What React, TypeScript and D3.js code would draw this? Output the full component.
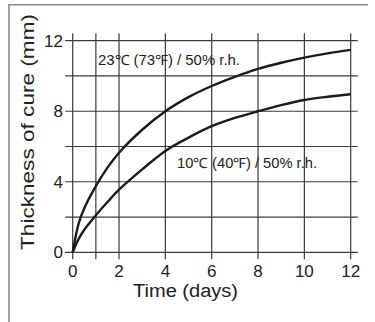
import React, { useRef, useEffect } from 'react';
import * as d3 from 'd3';

const days = [0, 0.25, 0.5, 1, 1.5, 2, 3, 4, 5, 6, 7, 8, 9, 10, 11, 12];
const warmCure = [0, 1.6, 2.5, 3.75, 4.8, 5.65, 6.95, 8, 8.8, 9.43, 9.95, 10.4, 10.75, 11.04, 11.28, 11.48];
const coldCure = [0, 0.74, 1.28, 2.1, 2.85, 3.55, 4.7, 5.75, 6.5, 7.15, 7.62, 8.0, 8.35, 8.64, 8.82, 8.96];

const xGrid = [0, 1, 2, 4, 6, 8, 10, 12];
const xTickLabels = [0, 2, 4, 6, 8, 10, 12];
const yGrid = [0, 2, 4, 6, 8, 10, 12];
const yTickLabels = [0, 4, 8, 12];

const warmLabel = '23℃ (73℉) / 50% r.h.';
const coldLabel = '10℃ (40℉) / 50% r.h.';

const App: React.FC = () => {
    const svgRef = useRef<SVGSVGElement | null>(null);
    const width = 375;
    const height = 322;

    useEffect(() => {
        const svg = d3.select(svgRef.current);
        svg.selectAll('*').remove();

        const font = 'Liberation Sans, Arial, Helvetica, sans-serif';

        const x = d3.scaleLinear().domain([0, 12]).range([72.7, 350.7]);
        const y = d3.scaleLinear().domain([0, 12]).range([252.3, 40.7]);

        // frame (top and left edges only)
        svg.append('path')
            .attr('d', 'M9,322 L9,4.7 L368,4.7')
            .attr('fill', 'none')
            .attr('stroke', '#8a8a8a')
            .attr('stroke-width', 1.6);

        const grid = svg.append('g').attr('stroke', '#3a3a3a').attr('stroke-width', 1.2);

        grid.selectAll('.vl')
            .data(xGrid)
            .enter()
            .append('line')
            .attr('x1', d => x(d))
            .attr('x2', d => x(d))
            .attr('y1', y(12) - 7.5)
            .attr('y2', y(0) + 7);

        grid.selectAll('.hl')
            .data(yGrid)
            .enter()
            .append('line')
            .attr('x1', x(0) - 7.5)
            .attr('x2', x(12) + 7)
            .attr('y1', d => y(d))
            .attr('y2', d => y(d));

        const line = d3
            .line<number>()
            .x((_, i) => x(days[i]))
            .y(d => y(d))
            .curve(d3.curveCatmullRom.alpha(0.5));

        [warmCure, coldCure].forEach(series => {
            svg.append('path')
                .datum(series)
                .attr('d', line as any)
                .attr('fill', 'none')
                .attr('stroke', '#1e1a1a')
                .attr('stroke-width', 2.4);
        });

        // tick labels
        svg.selectAll('.xt')
            .data(xTickLabels)
            .enter()
            .append('text')
            .attr('x', d => x(d))
            .attr('y', 276.5)
            .attr('text-anchor', 'middle')
            .style('font-family', font)
            .style('font-size', '17px')
            .attr('fill', '#222')
            .text(d => d);

        svg.selectAll('.yt')
            .data(yTickLabels)
            .enter()
            .append('text')
            .attr('x', 63)
            .attr('y', d => y(d) + 6)
            .attr('text-anchor', 'end')
            .style('font-family', font)
            .style('font-size', '17px')
            .attr('fill', '#222')
            .text(d => d);

        // axis titles
        svg.append('text')
            .attr('x', 185.5)
            .attr('y', 296.5)
            .attr('text-anchor', 'middle')
            .attr('textLength', 105)
            .attr('lengthAdjust', 'spacingAndGlyphs')
            .style('font-family', font)
            .style('font-size', '18px')
            .attr('fill', '#222')
            .text('Time (days)');

        svg.append('text')
            .attr('transform', 'translate(33.5,132) rotate(-90)')
            .attr('text-anchor', 'middle')
            .attr('textLength', 236)
            .attr('lengthAdjust', 'spacingAndGlyphs')
            .style('font-family', font)
            .style('font-size', '18.5px')
            .attr('fill', '#222')
            .text('Thickness of cure (mm)');

        // curve labels
        svg.append('text')
            .attr('x', 98)
            .attr('y', 65)
            .attr('textLength', 142)
            .attr('lengthAdjust', 'spacingAndGlyphs')
            .style('font-family', font)
            .style('font-size', '14px')
            .attr('fill', '#222')
            .text(warmLabel);

        svg.append('text')
            .attr('x', 177)
            .attr('y', 168)
            .attr('textLength', 140)
            .attr('lengthAdjust', 'spacingAndGlyphs')
            .style('font-family', font)
            .style('font-size', '14px')
            .attr('fill', '#222')
            .text(coldLabel);
    }, []);

    return (
        <svg
            ref={svgRef}
            width={width}
            height={height}
            style={{ position: 'absolute', left: 0, top: 0, background: '#fff', display: 'block' }}
        />
    );
};

export default App;
